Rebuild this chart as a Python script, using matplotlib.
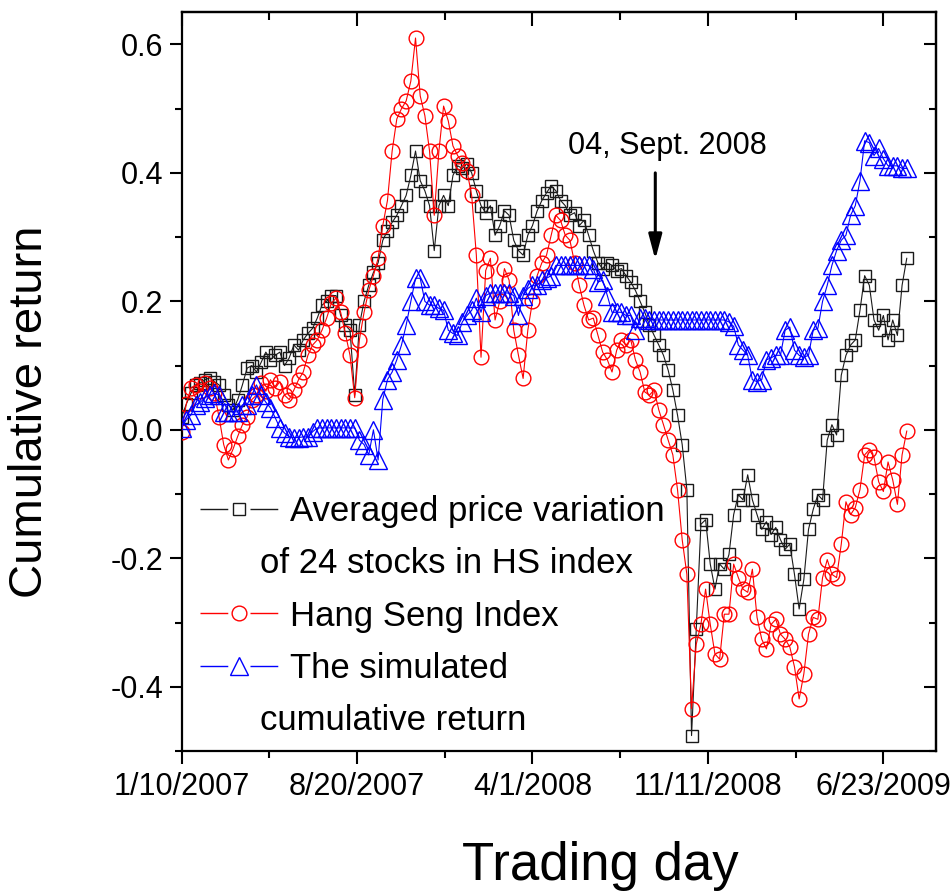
import numpy as np
import matplotlib
matplotlib.use("Agg")
import matplotlib.pyplot as plt
import matplotlib.transforms as mtransforms
from matplotlib.lines import Line2D
from matplotlib.ticker import FixedLocator
from matplotlib import font_manager

# ---------------- data (one sample every 4 trading days) ----------------
day_step = 4

avg_price = [
    0.02, 0.04, 0.057, 0.07, 0.073, 0.078, 0.081, 0.075, 0.07, 0.054,
    0.039, 0.031, 0.047, 0.07, 0.096, 0.10, 0.09, 0.105, 0.121, 0.109,
    0.116, 0.121, 0.10, 0.112, 0.132, 0.124, 0.14, 0.15, 0.158, 0.174,
    0.194, 0.20, 0.209, 0.209, 0.178, 0.163, 0.155, 0.054, 0.163, 0.20,
    0.225, 0.245, 0.26, 0.295, 0.31, 0.323, 0.334, 0.349, 0.365, 0.396,
    0.434, 0.388, 0.372, 0.349, 0.279, 0.349, 0.365, 0.349, 0.396, 0.411,
    0.407, 0.414, 0.40, 0.372, 0.349, 0.338, 0.349, 0.303, 0.318, 0.341,
    0.334, 0.295, 0.279, 0.272, 0.303, 0.318, 0.341, 0.357, 0.369, 0.38,
    0.372, 0.357, 0.349, 0.334, 0.338, 0.318, 0.326, 0.303, 0.279, 0.26,
    0.251, 0.26, 0.256, 0.248, 0.251, 0.24, 0.23, 0.217, 0.20, 0.183,
    0.163, 0.147, 0.132, 0.116, 0.093, 0.062, 0.023, -0.023, -0.093, -0.476,
    -0.31, -0.147, -0.14, -0.209, -0.248, -0.209, -0.217, -0.194, -0.132, -0.101,
    -0.109, -0.07, -0.109, -0.132, -0.155, -0.143, -0.163, -0.152, -0.171, -0.186,
    -0.178, -0.225, -0.279, -0.233, -0.155, -0.124, -0.101, -0.109, -0.016, 0.008,
    -0.008, 0.085, 0.116, 0.132, 0.14, 0.186, 0.24, 0.225, 0.171, 0.155,
    0.178, 0.14, 0.171, 0.147, 0.225, 0.267,
]

hang_seng = [
    -0.003, 0.04, 0.065, 0.07, 0.06, 0.073, 0.065, 0.057, 0.02, -0.023,
    -0.047, -0.03, -0.01, 0.008, 0.02, 0.047, 0.054, 0.073, 0.06, 0.078,
    0.065, 0.075, 0.054, 0.047, 0.062, 0.078, 0.09, 0.116, 0.132, 0.14,
    0.155, 0.174, 0.197, 0.205, 0.183, 0.15, 0.116, 0.05, 0.14, 0.183,
    0.217, 0.24, 0.267, 0.318, 0.357, 0.434, 0.484, 0.50, 0.512, 0.543,
    0.61, 0.52, 0.489, 0.434, 0.334, 0.434, 0.504, 0.481, 0.442, 0.427,
    0.416, 0.403, 0.365, 0.272, 0.113, 0.248, 0.267, 0.171, 0.20, 0.251,
    0.233, 0.155, 0.116, 0.08, 0.155, 0.20, 0.24, 0.26, 0.272, 0.303,
    0.334, 0.326, 0.303, 0.295, 0.26, 0.225, 0.194, 0.171, 0.174, 0.147,
    0.121, 0.109, 0.09, 0.124, 0.14, 0.132, 0.14, 0.109, 0.09, 0.059,
    0.054, 0.062, 0.031, 0.008, -0.016, -0.039, -0.093, -0.171, -0.225, -0.434,
    -0.334, -0.303, -0.248, -0.303, -0.349, -0.357, -0.287, -0.287, -0.209, -0.23,
    -0.248, -0.253, -0.217, -0.292, -0.326, -0.341, -0.303, -0.295, -0.318, -0.326,
    -0.338, -0.369, -0.419, -0.38, -0.318, -0.292, -0.295, -0.23, -0.202, -0.225,
    -0.23, -0.178, -0.112, -0.132, -0.121, -0.093, -0.039, -0.031, -0.043, -0.081,
    -0.096, -0.05, -0.078, -0.116, -0.039, -0.002,
]

simulated = [
    0.003, 0.016, 0.023, 0.039, 0.043, 0.05, 0.054, 0.057, 0.054, 0.028,
    0.028, 0.028, 0.028, 0.039, 0.039, 0.054, 0.07, 0.054, 0.043, 0.034,
    0.019, 0.003, -0.005, -0.011, -0.012, -0.012, -0.011, -0.011, -0.003, 0.003,
    0.003, 0.003, 0.003, 0.003, 0.003, 0.003, 0.003, 0.003, -0.016, -0.023,
    -0.039, 0.0, -0.047, 0.047, 0.078, 0.09, 0.109, 0.132, 0.163, 0.20,
    0.236, 0.236, 0.20, 0.194, 0.194, 0.189, 0.186, 0.155, 0.15, 0.147,
    0.168, 0.178, 0.186, 0.205, 0.183, 0.209, 0.213, 0.213, 0.213, 0.213,
    0.213, 0.209, 0.178, 0.209, 0.22, 0.225, 0.225, 0.233, 0.236, 0.24,
    0.256, 0.256, 0.256, 0.256, 0.256, 0.256, 0.256, 0.256, 0.251, 0.23,
    0.233, 0.209, 0.183, 0.183, 0.183, 0.178, 0.178, 0.155, 0.174, 0.174,
    0.171, 0.171, 0.171, 0.171, 0.171, 0.171, 0.171, 0.171, 0.171, 0.171,
    0.171, 0.171, 0.171, 0.171, 0.171, 0.171, 0.171, 0.168, 0.161, 0.132,
    0.124, 0.116, 0.078, 0.075, 0.078, 0.109, 0.112, 0.116, 0.116, 0.155,
    0.16, 0.124, 0.116, 0.113, 0.116, 0.155, 0.158, 0.20, 0.225, 0.256,
    0.279, 0.295, 0.303, 0.334, 0.349, 0.388, 0.45, 0.447, 0.427, 0.438,
    0.422, 0.411, 0.411, 0.411, 0.407, 0.407,
]

tick_days = [0, 150, 300, 450, 600]
tick_labels = ["1/10/2007", "8/20/2007", "4/1/2008", "11/11/2008", "6/23/2009"]
legend_lines = ["Averaged price variation", "of 24 stocks in HS index",
                "Hang Seng Index", "The simulated", "cumulative return"]
event_day = 405
event_label = "04, Sept. 2008"

days = np.arange(len(hang_seng)) * day_step

# ---------------- fonts ----------------
names = {f.name for f in font_manager.fontManager.ttflist}
main_font = "Liberation Sans" if "Liberation Sans" in names else "DejaVu Sans"
plt.rcParams["font.family"] = [main_font, "DejaVu Sans"]

# ---------------- figure ----------------
W, H, DPI = 953, 892, 100
fig = plt.figure(figsize=(W / DPI, H / DPI), dpi=DPI)
ax = fig.add_axes([181.6 / W, 1 - 751 / H, (936 - 181.6) / W, (751 - 12.3) / H])

black = "#1a1a1a"
sq_ms, ci_ms, tr_ms, mew = 8.6, 10.6, 12.5, 1.0
ax.plot(days, avg_price, color=black, lw=0.8, marker="s", ms=sq_ms, mfc="none",
        mec=black, mew=mew, zorder=3)
ax.plot(days, hang_seng, color="#ff0000", lw=0.8, marker="o", ms=ci_ms, mfc="none",
        mec="#ff0000", mew=mew, zorder=4)
ax.plot(days, simulated, color="#0000ff", lw=0.8, marker="^", ms=tr_ms, mfc="none",
        mec="#0000ff", mew=mew, zorder=5)

ax.set_xlim(0, 645)
ax.set_ylim(-0.5, 0.65)

ax.set_xticks(tick_days)
ax.set_xticklabels(tick_labels)
ax.xaxis.set_minor_locator(FixedLocator([75, 225, 375, 525]))
ax.set_yticks([-0.4, -0.2, 0.0, 0.2, 0.4, 0.6])
ax.set_yticklabels(["-0.4", "-0.2", "0.0", "0.2", "0.4", "0.6"])
ax.yaxis.set_minor_locator(FixedLocator([-0.5, -0.3, -0.1, 0.1, 0.3, 0.5]))

ax.tick_params(which="major", direction="out", length=9, width=1.5, labelsize=22, pad=4)
ax.tick_params(which="minor", direction="out", length=5, width=1.5)
ax.tick_params(axis="x", which="major", pad=6)
for s in ax.spines.values():
    s.set_linewidth(1.6)

# mirrored inward ticks on top/right
top = ax.secondary_xaxis("top")
top.set_xticks(tick_days)
top.xaxis.set_minor_locator(FixedLocator([75, 225, 375, 525]))
top.tick_params(which="major", direction="in", length=10, width=1.5, labeltop=False)
top.tick_params(which="minor", direction="in", length=6, width=1.5)
top.spines["top"].set_linewidth(1.6)
right = ax.secondary_yaxis("right")
right.set_yticks([-0.4, -0.2, 0.0, 0.2, 0.4, 0.6])
right.yaxis.set_minor_locator(FixedLocator([-0.5, -0.3, -0.1, 0.1, 0.3, 0.5]))
right.tick_params(which="major", direction="in", length=9, width=1.5, labelright=False)
right.tick_params(which="minor", direction="in", length=5, width=1.5)
right.spines["right"].set_linewidth(1.6)

ax.set_xlabel("Trading day", fontsize=38)
ax.xaxis.set_label_coords(0.555, -0.122)
ax.set_ylabel("Cumulative return", fontsize=34)
ax.yaxis.set_label_coords(-0.172, 0.459)

# annotation
ax.annotate("", xy=(event_day, 0.265), xytext=(event_day, 0.40),
            arrowprops=dict(arrowstyle="-|>,head_length=0.75,head_width=0.2",
                            color="k", lw=2.2, mutation_scale=20, shrinkA=0, shrinkB=0))
ax.text(event_day + 10, 0.442, event_label, ha="center", va="center", fontsize=22)

# legend
dash = (0, (20, 16))
handles = [
    Line2D([], [], color=black, ls=dash, lw=1.0, marker="s", ms=sq_ms, mfc="none", mec=black, mew=mew),
    Line2D([], [], color="none", ls="none"),
    Line2D([], [], color="#ff0000", ls=dash, lw=1.0, marker="o", ms=ci_ms, mfc="none", mec="#ff0000", mew=mew),
    Line2D([], [], color="#0000ff", ls=dash, lw=1.0, marker="^", ms=tr_ms, mfc="none", mec="#0000ff", mew=mew),
    Line2D([], [], color="none", ls="none"),
]
leg = ax.legend(handles, legend_lines, loc="upper left", bbox_to_anchor=(0.024, 0.347),
                frameon=False, fontsize=25, handlelength=2.25, handletextpad=0.35,
                labelspacing=0.56, borderpad=0, borderaxespad=0)
for i in (1, 4):
    t = leg.get_texts()[i]
    t.set_transform(t.get_transform() + mtransforms.Affine2D().translate(-30, 0))

fig.savefig("out.png", dpi=DPI)
